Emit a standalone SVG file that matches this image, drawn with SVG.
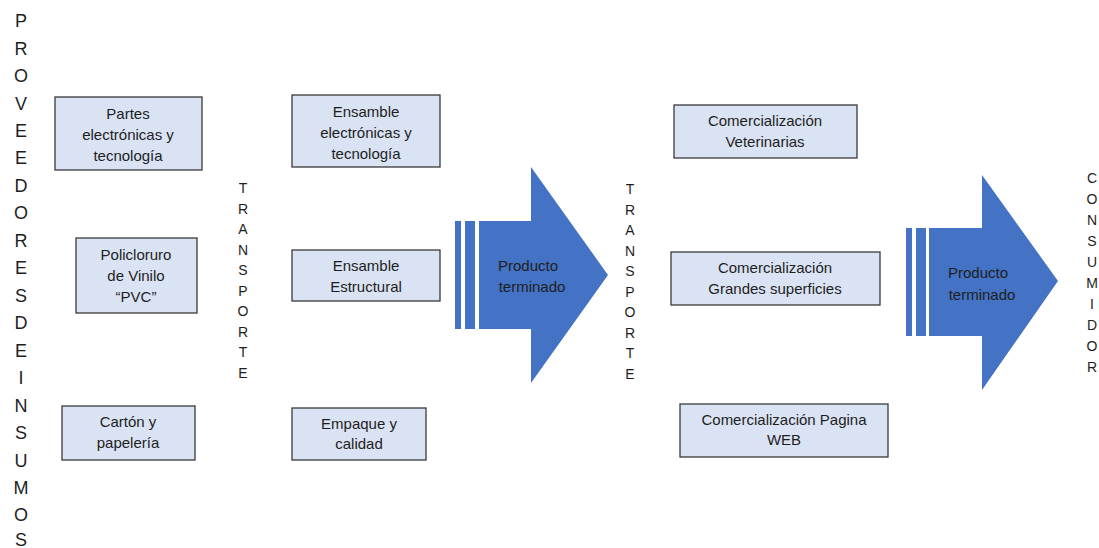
<svg xmlns="http://www.w3.org/2000/svg" width="1099" height="548" viewBox="0 0 1099 548">
<style>
.box{fill:#DAE3F3;stroke:#3a3a3a;stroke-width:1.3}
.t{font-family:"Liberation Sans",Arial,sans-serif;font-size:15px;fill:#1e1e1e;text-anchor:middle}
.v{font-family:"Liberation Sans",Arial,sans-serif;fill:#1e1e1e;text-anchor:middle}
.arr{fill:#4472C4}
</style>
<rect width="1099" height="548" fill="#ffffff"/>
<g id="proveedores">
<text class="v" font-size="18" x="21">
<tspan x="21" y="27">P</tspan><tspan x="21" y="55">R</tspan><tspan x="21" y="82">O</tspan><tspan x="21" y="110">V</tspan><tspan x="21" y="137">E</tspan><tspan x="21" y="164">E</tspan><tspan x="21" y="192">D</tspan><tspan x="21" y="219">O</tspan><tspan x="21" y="247">R</tspan><tspan x="21" y="274">E</tspan><tspan x="21" y="302">S</tspan><tspan x="21" y="329">D</tspan><tspan x="21" y="357">E</tspan><tspan x="21" y="384">I</tspan><tspan x="21" y="412">N</tspan><tspan x="21" y="439">S</tspan><tspan x="21" y="467">U</tspan><tspan x="21" y="494">M</tspan><tspan x="21" y="521">O</tspan><tspan x="21" y="546">S</tspan>
</text>
</g>
<g id="n-partes"><rect class="box" x="55" y="97" width="147" height="73"/><text class="t"><tspan x="128" y="119">Partes</tspan><tspan x="128" y="140">electrónicas y</tspan><tspan x="128" y="161">tecnología</tspan></text></g>
<g id="n-pvc"><rect class="box" x="76" y="238" width="121" height="75"/><text class="t"><tspan x="136" y="260">Policloruro</tspan><tspan x="136" y="281">de Vinilo</tspan><tspan x="136" y="302">“PVC”</tspan></text></g>
<g id="n-carton"><rect class="box" x="62" y="406" width="133" height="54"/><text class="t"><tspan x="128" y="427">Cartón y</tspan><tspan x="128" y="448">papelería</tspan></text></g>
<g id="transporte1"><text class="v" font-size="14"><tspan x="243" y="193">T</tspan><tspan x="243" y="214">R</tspan><tspan x="243" y="234">A</tspan><tspan x="243" y="255">N</tspan><tspan x="243" y="275">S</tspan><tspan x="243" y="296">P</tspan><tspan x="243" y="316">O</tspan><tspan x="243" y="337">R</tspan><tspan x="243" y="357">T</tspan><tspan x="243" y="378">E</tspan></text></g>
<g id="n-ens-elec"><rect class="box" x="292" y="95" width="148" height="72"/><text class="t"><tspan x="366" y="117">Ensamble</tspan><tspan x="366" y="138">electrónicas y</tspan><tspan x="366" y="159">tecnología</tspan></text></g>
<g id="n-ens-est"><rect class="box" x="292" y="250" width="148" height="51"/><text class="t"><tspan x="366" y="271">Ensamble</tspan><tspan x="366" y="292">Estructural</tspan></text></g>
<g id="n-empaque"><rect class="box" x="292" y="408" width="134" height="52"/><text class="t"><tspan x="359" y="429">Empaque y</tspan><tspan x="359" y="449">calidad</tspan></text></g>
<g id="arrow1">
<rect class="arr" x="455" y="221" width="6" height="108"/>
<rect class="arr" x="465" y="221" width="10" height="108"/>
<polygon class="arr" points="479,221 531,221 531,167 608,275 531,383 531,329 479,329"/>
<text class="t"><tspan x="528" y="271">Producto</tspan><tspan x="532" y="292">terminado</tspan></text>
</g>
<g id="transporte2"><text class="v" font-size="14"><tspan x="630" y="194">T</tspan><tspan x="630" y="215">R</tspan><tspan x="630" y="235">A</tspan><tspan x="630" y="256">N</tspan><tspan x="630" y="276">S</tspan><tspan x="630" y="297">P</tspan><tspan x="630" y="317">O</tspan><tspan x="630" y="338">R</tspan><tspan x="630" y="358">T</tspan><tspan x="630" y="379">E</tspan></text></g>
<g id="n-com-vet"><rect class="box" x="674" y="105" width="183" height="53"/><text class="t"><tspan x="765" y="126">Comercialización</tspan><tspan x="765" y="147">Veterinarias</tspan></text></g>
<g id="n-com-gs"><rect class="box" x="671" y="252" width="209" height="53"/><text class="t"><tspan x="775" y="273">Comercialización</tspan><tspan x="775" y="294">Grandes superficies</tspan></text></g>
<g id="n-com-web"><rect class="box" x="680" y="404" width="208" height="53"/><text class="t"><tspan x="784" y="425">Comercialización Pagina</tspan><tspan x="784" y="445">WEB</tspan></text></g>
<g id="arrow2">
<rect class="arr" x="906" y="228" width="6" height="108"/>
<rect class="arr" x="916" y="228" width="10" height="108"/>
<polygon class="arr" points="929,228 982,228 982,175 1058,281 982,390 982,336 929,336"/>
<text class="t"><tspan x="978" y="278">Producto</tspan><tspan x="982" y="300">terminado</tspan></text>
</g>
<g id="consumidor"><text class="v" font-size="14"><tspan x="1092" y="183">C</tspan><tspan x="1092" y="204">O</tspan><tspan x="1092" y="225">N</tspan><tspan x="1092" y="246">S</tspan><tspan x="1092" y="267">U</tspan><tspan x="1092" y="288">M</tspan><tspan x="1092" y="309">I</tspan><tspan x="1092" y="330">D</tspan><tspan x="1092" y="351">O</tspan><tspan x="1092" y="372">R</tspan></text></g>
<g id="connectors"></g>
</svg>
